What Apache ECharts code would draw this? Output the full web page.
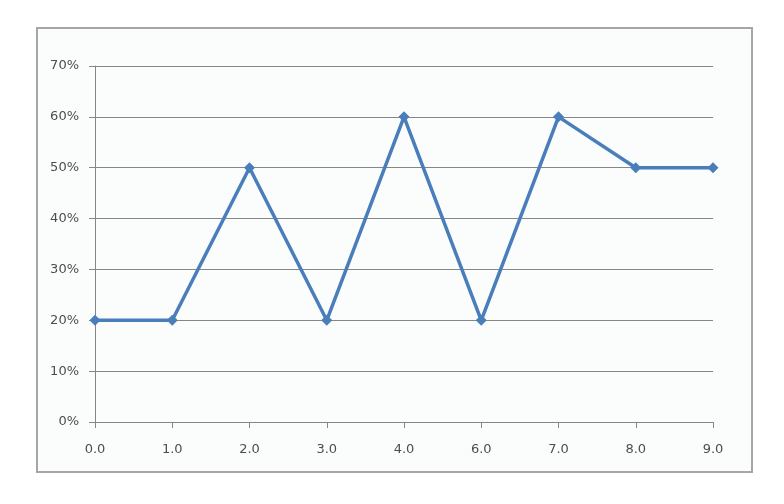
<!DOCTYPE html>
<html>
<head>
<meta charset="utf-8">
<script src="https://cdn.jsdelivr.net/npm/echarts@6/dist/echarts.min.js"></script>
<style>
html,body{margin:0;padding:0;background:#ffffff;}
#chart{width:784px;height:504px;}
</style>
</head>
<body>
<div id="chart"></div>
<script>
var categories = ['0.0','1.0','2.0','3.0','4.0','6.0','7.0','8.0','9.0'];
var values = [20, 20, 50, 20, 60, 20, 60, 50, 50];
var yTicks = { min: 0, max: 70, interval: 10 };

var chart = echarts.init(document.getElementById('chart'), null, {renderer: 'canvas'});
var axisColor = '#868686';
var labelFont = { color: '#4d4d4d', fontSize: 13, fontFamily: 'DejaVu Sans' };
chart.setOption({
  animation: false,
  backgroundColor: '#ffffff',
  graphic: [{
    type: 'rect',
    shape: { x: 37, y: 28, width: 715, height: 444 },
    style: { fill: '#fbfdfd', stroke: '#a6a6a6', lineWidth: 2 },
    z: -10
  }],
  grid: { left: 95, right: 71, top: 66, bottom: 82, containLabel: false },
  xAxis: {
    type: 'category',
    data: categories,
    boundaryGap: false,
    axisLine: { show: true, lineStyle: { color: axisColor, width: 1 } },
    axisTick: { show: true, length: 6, lineStyle: { color: axisColor } },
    axisLabel: Object.assign({ margin: 21 }, labelFont),
    splitLine: { show: false }
  },
  yAxis: {
    type: 'value',
    min: yTicks.min, max: yTicks.max, interval: yTicks.interval,
    axisLine: { show: true, lineStyle: { color: axisColor, width: 1 } },
    axisTick: { show: true, length: 6, lineStyle: { color: axisColor } },
    axisLabel: Object.assign({ margin: 16, formatter: '{value}%' }, labelFont),
    splitLine: { show: true, lineStyle: { color: axisColor, width: 1 } }
  },
  series: [{
    type: 'line',
    data: values,
    symbol: 'diamond',
    symbolSize: 11,
    itemStyle: { color: '#4a7ebb' },
    lineStyle: { color: '#4a7ebb', width: 3.5 }
  }]
});
</script>
</body>
</html>
